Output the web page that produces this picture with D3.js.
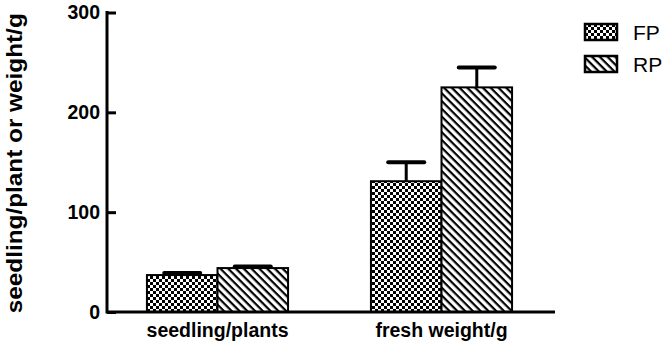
<!DOCTYPE html>
<html><head><meta charset="utf-8">
<script src="https://cdn.jsdelivr.net/npm/d3@7"></script>
<style>body{margin:0;background:#fff}svg{display:block}</style>
</head><body>
<svg id="chart" width="669" height="353"></svg>
<script>
const categories = ["seedling/plants", "fresh weight/g"];
const seriesNames = ["FP", "RP"];
const fpValues = [37, 131];
const fpErrors = [2, 19];
const rpValues = [44, 225];
const rpErrors = [1.5, 20];
const yTicks = [0, 100, 200, 300];
const yLabel = "seedling/plant or weight/g";

const svg = d3.select("#chart");
const defs = svg.append("defs");
const chk = defs.append("pattern").attr("id","pFP").attr("patternUnits","userSpaceOnUse")
  .attr("width",6).attr("height",6);
chk.append("rect").attr("width",6).attr("height",6).attr("fill","#fff");
chk.append("rect").attr("width",3).attr("height",3).attr("fill","#000");
chk.append("rect").attr("x",3).attr("y",3).attr("width",3).attr("height",3).attr("fill","#000");
const dg = defs.append("pattern").attr("id","pRP").attr("patternUnits","userSpaceOnUse")
  .attr("width",5.5).attr("height",5.5).attr("patternTransform","rotate(45)");
dg.append("rect").attr("width",5.5).attr("height",5.5).attr("fill","#fff");
dg.append("rect").attr("x",0).attr("y",0).attr("width",5.5).attr("height",2.2).attr("fill","#000");

const font = "Liberation Sans, Arial, sans-serif";
const x0 = 107, x1 = 555, yTop = 12.5, yBot = 312;
const y = d3.scaleLinear().domain([0,300]).range([yBot, yTop]);
const xc = d3.scaleBand().domain(categories).range([x0 - 1.5, x1 - 1.5]).paddingInner(0.37).paddingOuter(0.185);
const xs = d3.scaleBand().domain(seriesNames).range([0, xc.bandwidth()]);

const data = [
  {vals: fpValues, errs: fpErrors, fill: "url(#pFP)", name: "FP"},
  {vals: rpValues, errs: rpErrors, fill: "url(#pRP)", name: "RP"}
];

const g = svg.append("g");
data.forEach(s => {
  categories.forEach((c, i) => {
    const bx = xc(c) + xs(s.name);
    const bw = xs.bandwidth();
    const cx = bx + bw/2;
    const top = y(s.vals[i]), etop = y(s.vals[i] + s.errs[i]);
    g.append("line").attr("x1",cx).attr("x2",cx).attr("y1",top).attr("y2",etop)
      .attr("stroke","#000").attr("stroke-width",3);
    g.append("line").attr("x1",cx-18).attr("x2",cx+18).attr("y1",etop).attr("y2",etop)
      .attr("stroke","#000").attr("stroke-width",4).attr("stroke-linecap","round");
    g.append("rect").attr("x",bx).attr("y",top).attr("width",bw).attr("height",yBot-top)
      .attr("fill",s.fill).attr("stroke","#000").attr("stroke-width",2);
  });
});

const yAxis = d3.axisLeft(y).tickValues(yTicks).tickSize(-9).tickPadding(7).tickFormat(d3.format("d"));
const ya = svg.append("g").attr("transform",`translate(${x0},0)`).call(yAxis);
ya.select(".domain").remove();
ya.selectAll(".tick line").attr("stroke","#000").attr("stroke-width",3);
ya.selectAll(".tick text").attr("font-family",font)
  .attr("font-weight","bold").attr("font-size",19.5).attr("fill","#000");
svg.append("line").attr("x1",x0).attr("x2",x0).attr("y1",yTop-1.5).attr("y2",yBot+1.5)
  .attr("stroke","#000").attr("stroke-width",3);

const xAxis = d3.axisBottom(xc).tickSize(0).tickPadding(11);
const xa = svg.append("g").attr("transform",`translate(0,${yBot})`).call(xAxis);
xa.select(".domain").remove();
xa.selectAll(".tick text").attr("font-family",font)
  .attr("font-weight","bold").attr("font-size",19.5).attr("fill","#000");
svg.append("line").attr("x1",x0).attr("x2",x1).attr("y1",yBot).attr("y2",yBot)
  .attr("stroke","#000").attr("stroke-width",3);

svg.append("text").attr("transform",`translate(22,${(yTop+yBot)/2 + 1}) rotate(-90)`)
  .attr("text-anchor","middle").attr("font-family",font)
  .attr("font-weight","bold").attr("font-size",22)
  .attr("textLength",300).attr("lengthAdjust","spacingAndGlyphs").text(yLabel);

const leg = svg.append("g");
data.forEach((s, i) => {
  const ly = 24 + i*32;
  leg.append("rect").attr("x",585).attr("y",ly).attr("width",32).attr("height",16)
    .attr("fill",s.fill).attr("stroke","#000").attr("stroke-width",2.5);
  leg.append("text").attr("x",633).attr("y",ly+16).attr("font-family",font)
    .attr("font-size",21).text(s.name);
});
</script>
</body></html>
